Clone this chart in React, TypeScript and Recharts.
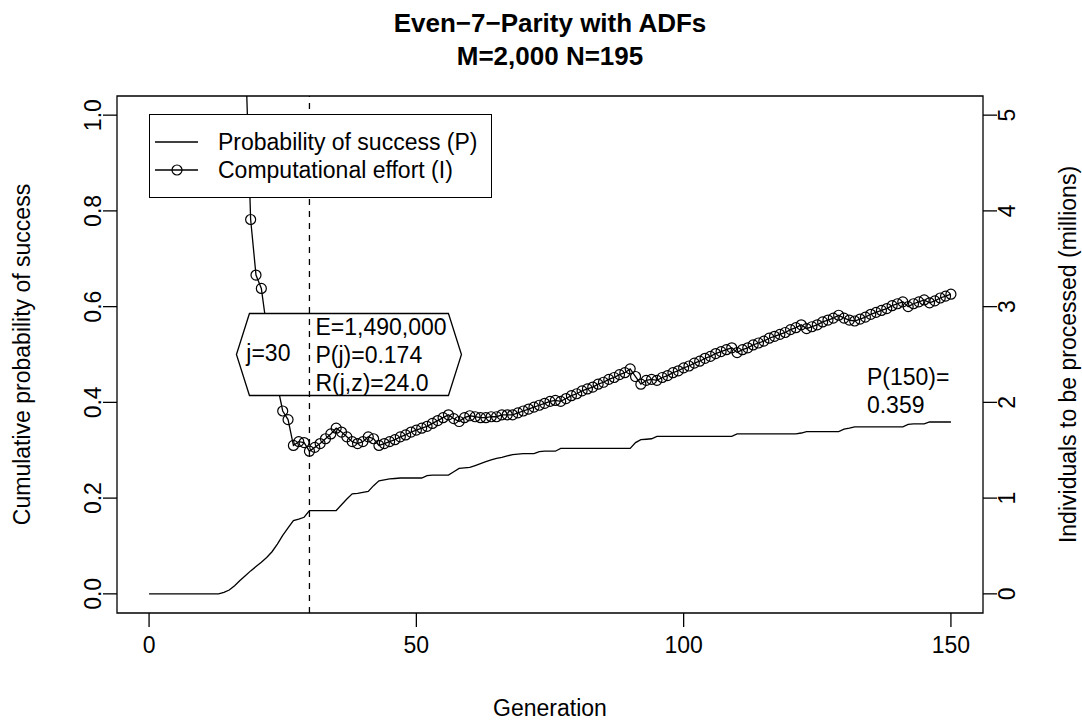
import React from 'react';
import {
  ComposedChart,
  Line,
  XAxis,
  YAxis,
  Legend,
  ReferenceArea,
  ReferenceLine,
  ReferenceDot,
} from 'recharts';

const W = 1082;
const H = 726;
const FONT = '"Liberation Sans", Arial, Helvetica, sans-serif';
const FS = 23;

// plot box in page pixels (used only for text placement)
const PLOT_LEFT = 117;
const PLOT_RIGHT = 983;
const PLOT_TOP = 96;
const PLOT_BOTTOM = 613;

// x categories: generation 0..150
const generations: number[] = Array.from({ length: 151 }, (_, i) => i);

// cumulative probability of success P(M,i), one value per generation
const probSuccess: number[] = [
  0, 0, 0, 0, 0, 0, 0, 0, 0, 0,
  0, 0, 0, 0, 0.003, 0.008, 0.017, 0.028, 0.038, 0.048,
  0.057, 0.066, 0.076, 0.088, 0.104, 0.122, 0.138, 0.153, 0.156, 0.16,
  0.174, 0.174, 0.174, 0.174, 0.174, 0.174, 0.186, 0.198, 0.209, 0.21,
  0.212, 0.214, 0.226, 0.236, 0.238, 0.24, 0.241, 0.242, 0.242, 0.242,
  0.242, 0.242, 0.247, 0.248, 0.248, 0.248, 0.248, 0.255, 0.262, 0.263,
  0.264, 0.268, 0.272, 0.276, 0.28, 0.283, 0.285, 0.288, 0.291, 0.292,
  0.293, 0.293, 0.293, 0.297, 0.298, 0.298, 0.298, 0.304, 0.304, 0.304,
  0.304, 0.304, 0.304, 0.304, 0.304, 0.304, 0.304, 0.304, 0.304, 0.304,
  0.304, 0.316, 0.322, 0.323, 0.324, 0.329, 0.329, 0.329, 0.329, 0.329,
  0.329, 0.329, 0.329, 0.329, 0.329, 0.329, 0.329, 0.329, 0.329, 0.329,
  0.334, 0.334, 0.334, 0.334, 0.334, 0.334, 0.334, 0.334, 0.334, 0.334,
  0.334, 0.334, 0.336, 0.339, 0.339, 0.339, 0.339, 0.339, 0.339, 0.339,
  0.344, 0.346, 0.349, 0.349, 0.349, 0.349, 0.349, 0.349, 0.349, 0.349,
  0.349, 0.349, 0.354, 0.355, 0.355, 0.355, 0.359, 0.359, 0.359, 0.359,
  0.359,
];

// computational effort I(M,i,z) in millions of individuals (undefined while P = 0)
const effortMillions: (number | null)[] = [
  null, null, null, null, null, null, null, null, null, null,
  null, null, null, null, null, null, null, null, 5.7, 3.91,
  3.33, 3.19, 2.78, 2.45, 2.18, 1.91, 1.82, 1.55, 1.59, 1.58,
  1.49, 1.53, 1.57, 1.62, 1.67, 1.73, 1.69, 1.64, 1.59, 1.57,
  1.59, 1.64, 1.62, 1.55, 1.57, 1.59, 1.61, 1.64, 1.66, 1.69,
  1.71, 1.73, 1.75, 1.78, 1.81, 1.84, 1.87, 1.83, 1.8, 1.84,
  1.86, 1.85, 1.84, 1.84, 1.85, 1.85, 1.87, 1.87, 1.87, 1.89,
  1.91, 1.93, 1.95, 1.97, 1.99, 2.01, 2.02, 2.01, 2.04, 2.07,
  2.09, 2.12, 2.14, 2.16, 2.19, 2.21, 2.24, 2.26, 2.29, 2.31,
  2.35, 2.27, 2.19, 2.23, 2.24, 2.23, 2.26, 2.28, 2.31, 2.33,
  2.36, 2.38, 2.41, 2.43, 2.46, 2.48, 2.51, 2.53, 2.55, 2.57,
  2.52, 2.55, 2.57, 2.6, 2.62, 2.64, 2.67, 2.69, 2.71, 2.73,
  2.76, 2.78, 2.81, 2.77, 2.79, 2.81, 2.84, 2.86, 2.88, 2.91,
  2.88, 2.86, 2.85, 2.87, 2.89, 2.92, 2.94, 2.96, 2.98, 3.01,
  3.03, 3.05, 3.0, 3.03, 3.05, 3.07, 3.04, 3.06, 3.09, 3.11,
  3.13,
];

const xTicks = [0, 50, 100, 150];
const probTicks = [0, 0.2, 0.4, 0.6, 0.8, 1.0];
const effortTicks = [0, 1, 2, 3, 4, 5];

// best generation j* and the run count reported for it
const bestGen = 30;
const runsRequired = 24.0;
const lastGen = 150;

// legend rows, top to bottom
const legendOrder = ['p', 'effort'];

const rows = generations.map((g, i) => ({
  gen: g,
  p: probSuccess[i],
  effort: effortMillions[i],
}));

const txt = { fontSize: FS, fill: '#000' };

const XTick = ({ x, payload }: any) => (
  <text x={x} y={PLOT_BOTTOM + 40} textAnchor="middle" {...txt}>
    {payload.value}
  </text>
);

const LeftTick = ({ y, payload }: any) => {
  const bx = PLOT_LEFT - 16;
  return (
    <text x={bx} y={y} transform={`rotate(-90 ${bx} ${y})`} textAnchor="middle" {...txt}>
      {payload.value.toFixed(1)}
    </text>
  );
};

const RightTick = ({ y, payload }: any) => {
  const bx = PLOT_RIGHT + 32;
  return (
    <text x={bx} y={y} transform={`rotate(-90 ${bx} ${y})`} textAnchor="middle" {...txt}>
      {payload.value}
    </text>
  );
};

// hexagonal call-out at j*, drawn around a point on the dashed line
const BestGenBox = ({ cx, cy }: any) => {
  const e = effortMillions[bestGen] as number;
  const lines = [
    `E=${Math.round(e * 1e6).toLocaleString('en-US')}`,
    `P(j)=${probSuccess[bestGen].toFixed(3)}`,
    `R(j,z)=${runsRequired.toFixed(1)}`,
  ];
  const pts = [
    [-73, 0], [-60, -41], [139, -41], [152, 0], [139, 41], [-60, 41],
  ].map(([dx, dy]) => `${cx + dx},${cy + dy}`).join(' ');
  return (
    <g>
      <polygon points={pts} fill="#fff" stroke="#000" strokeWidth={1.3} />
      <text x={cx - 19} y={cy + 6} textAnchor="end" {...txt}>j={bestGen}</text>
      {lines.map((s, i) => (
        <text key={s} x={cx + 6} y={cy - 20 + i * 28} {...txt}>{s}</text>
      ))}
    </g>
  );
};

const FinalLabel = ({ cx, cy }: any) => (
  <g>
    <text x={cx - 84} y={cy - 37} {...txt}>P({lastGen})=</text>
    <text x={cx - 84} y={cy - 9} {...txt}>{probSuccess[lastGen].toFixed(3)}</text>
  </g>
);

const LegendContent = ({ payload }: any) => {
  const items = [...(payload || [])].sort(
    (a: any, b: any) => legendOrder.indexOf(a.dataKey) - legendOrder.indexOf(b.dataKey),
  );
  return (
    <svg width={341} height={82} style={{ display: 'block' }}>
      {items.map((entry: any, i: number) => {
        const cy = 27 + i * 28;
        return (
          <g key={entry.value}>
            <line x1={5} x2={48} y1={cy} y2={cy} stroke="#000" strokeWidth={1.3} />
            {entry.dataKey === 'effort' && (
              <circle cx={27} cy={cy} r={5} fill="none" stroke="#000" strokeWidth={1.2} />
            )}
            <text x={68} y={cy + 8} {...txt}>{entry.value}</text>
          </g>
        );
      })}
    </svg>
  );
};

const rotatedTitle = (x: number, y: number, s: string) => (
  <text x={x} y={y} transform={`rotate(-90 ${x} ${y})`} textAnchor="middle" {...txt}>
    {s}
  </text>
);

export default function App() {
  const midY = (PLOT_TOP + PLOT_BOTTOM) / 2;
  const midX = (PLOT_LEFT + PLOT_RIGHT) / 2;
  return (
    <div
      style={{
        position: 'absolute',
        left: 0,
        top: 0,
        width: W,
        height: H,
        background: '#fff',
        fontFamily: FONT,
      }}
    >
      <ComposedChart
        width={W}
        height={H}
        data={rows}
        margin={{ top: PLOT_TOP, right: 0, bottom: 0, left: 0 }}
      >
        <XAxis
          dataKey="gen"
          type="number"
          domain={[-6, 156]}
          ticks={xTicks}
          interval={0}
          height={H - PLOT_BOTTOM}
          axisLine={false}
          stroke="#000"
          tickSize={14}
          tickLine={{ stroke: '#000', strokeWidth: 1.3 }}
          tick={<XTick />}
          label={{ content: () => <text x={midX} y={716} textAnchor="middle" {...txt}>Generation</text> }}
        />
        <YAxis
          yAxisId="p"
          domain={[-0.04, 1.04]}
          ticks={probTicks}
          interval={0}
          width={PLOT_LEFT}
          axisLine={false}
          stroke="#000"
          tickSize={14}
          tickLine={{ stroke: '#000', strokeWidth: 1.3 }}
          tick={<LeftTick />}
          label={{ content: () => rotatedTitle(30, midY, 'Cumulative probability of success') }}
        />
        <YAxis
          yAxisId="i"
          orientation="right"
          domain={[-0.2, 5.2]}
          allowDataOverflow
          ticks={effortTicks}
          interval={0}
          width={W - PLOT_RIGHT}
          axisLine={false}
          stroke="#000"
          tickSize={14}
          tickLine={{ stroke: '#000', strokeWidth: 1.3 }}
          tick={<RightTick />}
          label={{ content: () => rotatedTitle(1076, midY, 'Individuals to be processed (millions)') }}
        />
        <ReferenceArea
          yAxisId="p"
          x1={-6}
          x2={156}
          y1={-0.04}
          y2={1.04}
          fill="none"
          stroke="#000"
          strokeWidth={1.3}
        />
        <Line
          yAxisId="p"
          dataKey="p"
          name="Probability of success (P)"
          type="linear"
          stroke="#000"
          strokeWidth={1.3}
          dot={false}
          activeDot={false}
          isAnimationActive={false}
        />
        <Line
          yAxisId="i"
          dataKey="effort"
          name="Computational effort (I)"
          type="linear"
          stroke="#000"
          strokeWidth={1.3}
          dot={{ r: 5, fill: 'none', stroke: '#000', strokeWidth: 1.2 }}
          activeDot={false}
          isAnimationActive={false}
        />
        <ReferenceDot
          yAxisId="p"
          x={bestGen}
          y={0.5}
          shape={BestGenBox}
          zIndex={1300}
        />
        <ReferenceLine
          yAxisId="p"
          x={bestGen}
          stroke="#000"
          strokeWidth={1.3}
          strokeDasharray="6 6"
          zIndex={1310}
        />
        <ReferenceDot
          yAxisId="p"
          x={lastGen}
          y={probSuccess[lastGen]}
          shape={FinalLabel}
        />
        <Legend
          layout="vertical"
          align="center"
          verticalAlign="middle"
          content={<LegendContent />}
          wrapperStyle={{
            left: 149,
            top: 114,
            width: 343,
            height: 84,
            background: '#fff',
            border: '1.3px solid #000',
            boxSizing: 'border-box',
          }}
        />
      </ComposedChart>
      <svg
        width={W}
        height={H}
        style={{ position: 'absolute', left: 0, top: 0, pointerEvents: 'none' }}
      >
        <text x={midX} y={32} textAnchor="middle" fontSize={26} fontWeight="bold" fill="#000">
          Even−7−Parity with ADFs
        </text>
        <text x={midX} y={65} textAnchor="middle" fontSize={26} fontWeight="bold" fill="#000">
          M=2,000 N=195
        </text>
      </svg>
    </div>
  );
}
